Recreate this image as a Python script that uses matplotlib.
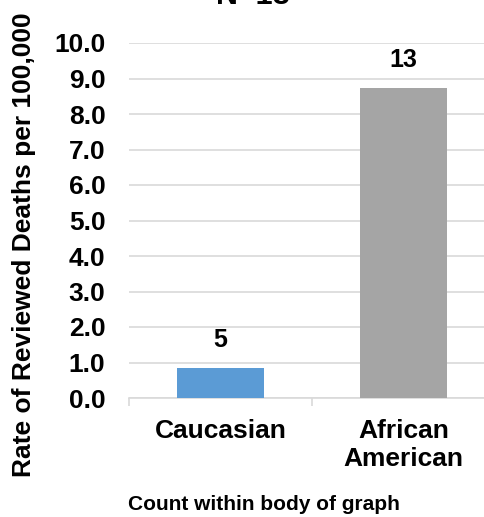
import matplotlib
matplotlib.use("Agg")
import matplotlib.pyplot as plt

# 数据
categories = ["Caucasian", "African\nAmerican"]
rates = [0.85, 8.73]
counts = ["5", "13"]
colors = ["#5B9BD5", "#A5A5A5"]
yticks = [0, 1, 2, 3, 4, 5, 6, 7, 8, 9, 10]

plt.rcParams['font.family'] = ['Liberation Sans', 'DejaVu Sans']
plt.rcParams['font.weight'] = 'bold'

fig = plt.figure(figsize=(4.85, 5.17), dpi=100)
ax = fig.add_axes([129/485, 1-398/517, 366/485, (398-43)/517])

x = range(len(categories))
bars = ax.bar(x, rates, width=0.48, color=colors, zorder=3)

# 数据标签
for i, b in enumerate(bars):
    ax.text(b.get_x() + b.get_width()/2, b.get_height() + 0.45, counts[i],
            ha='center', va='bottom', fontsize=18, fontweight='bold')

ax.set_xlim(-0.5, 1.5)
ax.set_ylim(0, 10)
ax.set_yticks(yticks)
ax.set_yticklabels(["%.1f" % v for v in yticks], fontsize=19, fontweight='bold')
ax.set_xticks(list(x))
ax.set_xticklabels(categories, fontsize=19, fontweight='bold', linespacing=1.2)
ax.tick_params(axis='y', length=0, pad=17)
ax.tick_params(axis='x', length=0, pad=15)

# 分类边界的小刻度
ax.set_xticks([-0.5, 0.5, 1.5], minor=True)
ax.tick_params(axis='x', which='minor', length=6, color='#d9d9d9', width=1.2)

ax.yaxis.grid(True, color='#d9d9d9', linewidth=1.2, zorder=0)
for s in ['top', 'right', 'left']:
    ax.spines[s].set_visible(False)
ax.spines['bottom'].set_color('#d9d9d9')
ax.spines['bottom'].set_linewidth(1.2)

ax.set_ylabel("Rate of Reviewed Deaths per 100,000", fontsize=19, fontweight='bold')
ax.yaxis.set_label_coords((36 - 129)/366, (398 - 245)/(398 - 43))

fig.text(253/485, 1-4.5/517, "N=18", ha='center', va='baseline', fontsize=22, fontweight='bold')
fig.text(264/485, 1-505/517, "Count within body of graph", ha='center', va='center',
         fontsize=15, fontweight='bold')

fig.savefig("out.png", dpi=100)
